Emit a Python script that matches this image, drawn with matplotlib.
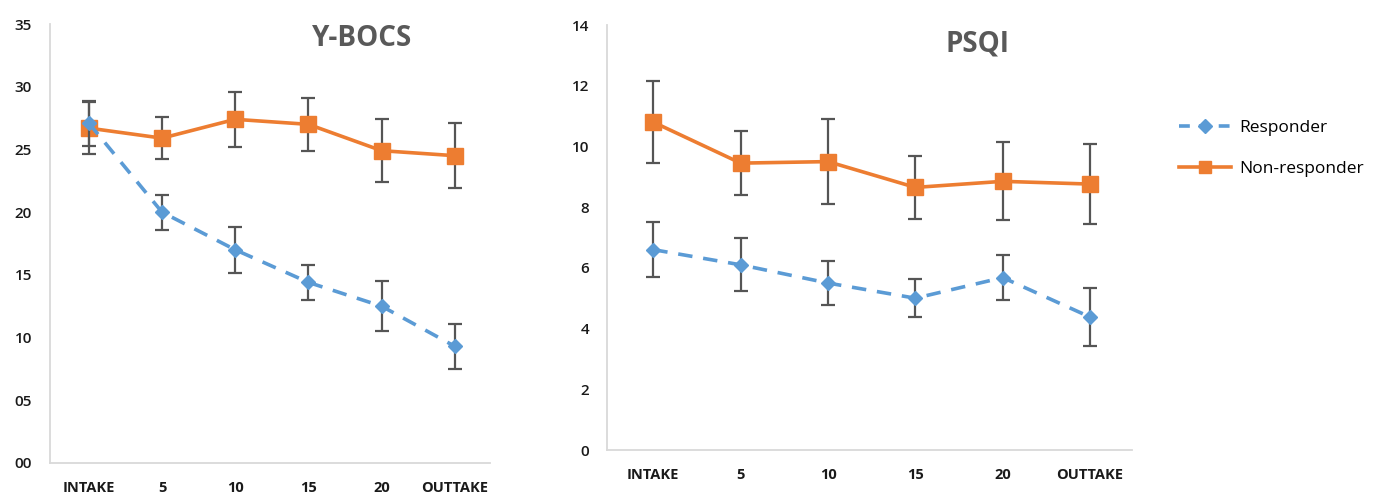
import matplotlib
matplotlib.use("Agg")
import matplotlib.pyplot as plt
from matplotlib.lines import Line2D
import numpy as np

plt.rcParams['font.family'] = ['Open Sans', 'DejaVu Sans']

categories = ["INTAKE", "5", "10", "15", "20", "OUTTAKE"]

# Y-BOCS
ybocs_resp = [27.1, 20.0, 17.0, 14.4, 12.5, 9.3]
ybocs_resp_err = [1.8, 1.4, 1.85, 1.4, 2.0, 1.8]
ybocs_non = [26.7, 25.9, 27.4, 27.0, 24.9, 24.5]
ybocs_non_err = [2.1, 1.7, 2.2, 2.1, 2.5, 2.6]
ybocs_yticks = [0, 5, 10, 15, 20, 25, 30, 35]
ybocs_yticklabels = ["00", "05", "10", "15", "20", "25", "30", "35"]

# PSQI
psqi_resp = [6.6, 6.1, 5.5, 5.0, 5.68, 4.38]
psqi_resp_err = [0.9, 0.87, 0.73, 0.63, 0.75, 0.95]
psqi_non = [10.8, 9.45, 9.5, 8.65, 8.85, 8.76]
psqi_non_err = [1.35, 1.05, 1.4, 1.05, 1.28, 1.32]
psqi_yticks = [0, 2, 4, 6, 8, 10, 12, 14]

BLUE = "#5B9BD5"
ORANGE = "#ED7D31"
ERR = "#555555"
SPINE = "#D9D9D9"
TXT = "#1a1a1a"

W, H = 1378, 496
fig = plt.figure(figsize=(W / 100, H / 100), dpi=100)

ax1 = fig.add_axes([50 / W, 1 - 463 / H, 440 / W, 439 / H])
ax2 = fig.add_axes([607 / W, 1 - 450 / H, 525 / W, 425 / H])

x = np.arange(len(categories))


def draw(ax, resp, resp_err, non, non_err):
    ax.errorbar(x, non, yerr=non_err, color=ORANGE, ecolor=ERR, elinewidth=1.6,
                capsize=5, capthick=1.6, lw=2.6, marker='s', ms=11,
                label="Non-responder", zorder=3)
    ax.errorbar(x, resp, yerr=resp_err, color=BLUE, ecolor=ERR, elinewidth=1.6,
                capsize=5, capthick=1.6, lw=2.6, ls=(0, (4, 3)), marker='D', ms=7.5,
                label="Responder", zorder=4)
    ax.set_xlim(-0.53, 5.48)
    ax.set_xticks(x)
    ax.set_xticklabels(categories, fontsize=10.5, fontweight='bold', color=TXT)
    for s in ['top', 'right']:
        ax.spines[s].set_visible(False)
    for s in ['left', 'bottom']:
        ax.spines[s].set_color(SPINE)
        ax.spines[s].set_linewidth(1.3)
    ax.tick_params(axis='x', length=0, pad=13)
    ax.tick_params(axis='y', length=0, labelsize=11, colors=TXT, pad=13)


draw(ax1, ybocs_resp, ybocs_resp_err, ybocs_non, ybocs_non_err)
ax1.set_ylim(0, 35)
ax1.set_yticks(ybocs_yticks)
ax1.set_yticklabels(ybocs_yticklabels, fontweight='semibold')
ax1.text(0.71, 1.0, "Y-BOCS", transform=ax1.transAxes, ha='center', va='top',
         fontsize=20, fontweight='bold', color='#595959')

draw(ax2, psqi_resp, psqi_resp_err, psqi_non, psqi_non_err)
ax2.set_ylim(0, 14)
ax2.set_yticks(psqi_yticks)
ax2.set_yticklabels([str(v) for v in psqi_yticks], fontweight='semibold')
ax2.text(0.705, 0.99, "PSQI", transform=ax2.transAxes, ha='center', va='top',
         fontsize=20, fontweight='bold', color='#595959')

h_resp = Line2D([], [], color=BLUE, lw=2.6, ls=(0, (3, 2.5)), marker='D', ms=7)
h_non = Line2D([], [], color=ORANGE, lw=2.6, marker='s', ms=9)
fig.legend([h_resp, h_non], ["Responder", "Non-responder"],
           loc='upper left', bbox_to_anchor=(1172 / W, 1 - 113 / H),
           frameon=False, fontsize=12.5, handlelength=3.0, labelspacing=1.45,
           handletextpad=0.5, borderaxespad=0)

fig.savefig("out.png", dpi=100)
